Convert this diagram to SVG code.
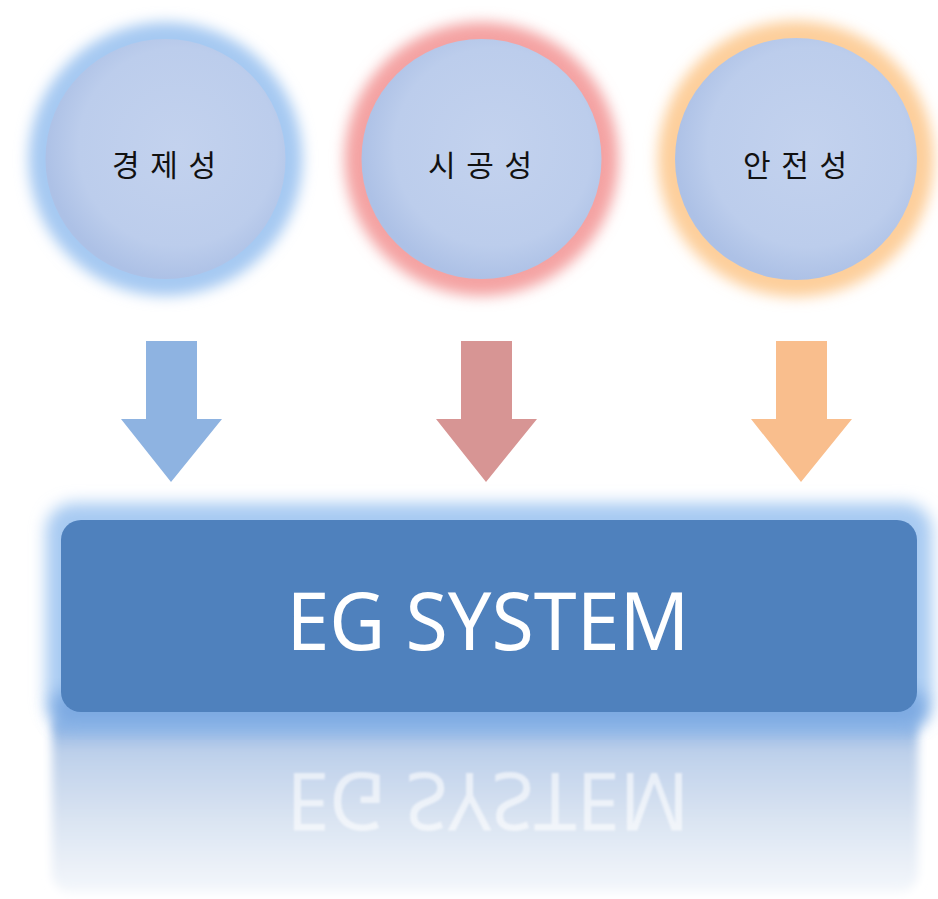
<svg xmlns="http://www.w3.org/2000/svg" width="938" height="899" viewBox="0 0 938 899">
<defs>
<filter id="glow" x="-30%" y="-30%" width="160%" height="160%"><feGaussianBlur stdDeviation="7"/></filter>
<filter id="rglow" x="-10%" y="-30%" width="120%" height="160%"><feGaussianBlur stdDeviation="8"/></filter>
<filter id="soft" x="-10%" y="-10%" width="120%" height="120%"><feGaussianBlur stdDeviation="5"/></filter>
<filter id="tblur"><feGaussianBlur stdDeviation="1.3"/></filter>
<radialGradient id="ball" cx="55%" cy="45%" r="55%">
<stop offset="0" stop-color="#c3d2ee"/>
<stop offset="0.75" stop-color="#bccdec"/>
<stop offset="1" stop-color="#adc1e6"/>
</radialGradient>
<linearGradient id="refl" x1="0" y1="0" x2="0" y2="1">
<stop offset="0" stop-color="#76a5e0"/>
<stop offset="0.22" stop-color="#bdd0ea"/>
<stop offset="0.6" stop-color="#dae4f2"/>
<stop offset="1" stop-color="#f4f7fb"/>
</linearGradient>
</defs>
<style>
.lbl{font-family:"Noto Sans CJK KR","Noto Sans",sans-serif;font-size:30px;font-weight:400;fill:#111;text-anchor:middle;letter-spacing:2px}
.main{font-family:"Noto Sans","Liberation Sans",sans-serif;font-size:80px;font-weight:400;fill:#fff;text-anchor:middle}
</style>
<rect width="938" height="899" fill="#fff"/>
<g id="n1">
<circle cx="165.5" cy="159" r="137" fill="#a6c9f2" filter="url(#glow)"/>
<circle cx="165.5" cy="159" r="120" fill="url(#ball)"/>
<text class="lbl" x="165" y="176">경 제 성</text>
</g>
<g id="n2">
<circle cx="481.5" cy="159" r="137" fill="#f4a3a3" filter="url(#glow)"/>
<circle cx="481.5" cy="159" r="120" fill="url(#ball)"/>
<text class="lbl" x="481" y="176">시 공 성</text>
</g>
<g id="n3">
<circle cx="796" cy="159" r="138" fill="#fdcf9b" filter="url(#glow)"/>
<circle cx="796" cy="159" r="121" fill="url(#ball)"/>
<text class="lbl" x="796" y="176">안 전 성</text>
</g>
<g id="connectors">
<path d="M146,341 H197 V419 H222 L171,482 L121,419 H146 Z" fill="#8eb3e1"/>
<path d="M461,341 H512 V419 H537 L486,482 L436,419 H461 Z" fill="#d79594"/>
<path d="M776,341 H827 V419 H852 L801,482 L751,419 H776 Z" fill="#f9be8d"/>
</g>
<g id="reflection">
<rect x="52" y="712" width="866" height="180" rx="18" fill="url(#refl)" filter="url(#soft)"/>
<g transform="translate(0,1423) scale(1,-1)" opacity="0.6" filter="url(#tblur)">
<text class="main" x="488" y="650" textLength="403" lengthAdjust="spacingAndGlyphs">EG SYSTEM</text>
</g>
</g>
<g id="system">
<rect x="46" y="503" width="886" height="224" rx="28" fill="#a7caf2" filter="url(#rglow)"/>
<rect x="52" y="690" width="874" height="38" rx="16" fill="#7eaae2" filter="url(#rglow)"/>
<rect x="61" y="520" width="856" height="192" rx="20" fill="#4f81bd"/>
<text class="main" x="488" y="650" textLength="403" lengthAdjust="spacingAndGlyphs">EG SYSTEM</text>
</g>
</svg>
